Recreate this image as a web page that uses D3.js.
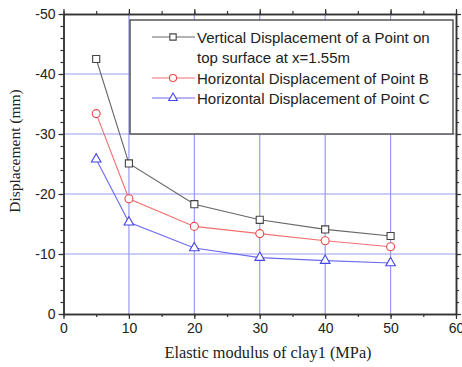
<!DOCTYPE html>
<html><head><meta charset="utf-8">
<script src="https://cdn.jsdelivr.net/npm/d3@7"></script>
<style>body{margin:0;background:#fff}svg{display:block}</style>
</head><body>
<script>
const xValues = [5, 10, 20, 30, 40, 50];
const verticalA = [-42.5, -25.1, -18.3, -15.7, -14.1, -13.0];
const horizontalB = [-33.4, -19.2, -14.6, -13.4, -12.2, -11.2];
const horizontalC = [-25.8, -15.3, -11.0, -9.4, -8.9, -8.5];
const seriesNames = ["Vertical Displacement of a Point on", "top surface at x=1.55m", "Horizontal Displacement of Point B", "Horizontal Displacement of Point C"];
const xTicks = [0, 10, 20, 30, 40, 50, 60];
const yTicks = [0, -10, -20, -30, -40, -50];

const W = 462, H = 367;
const svg = d3.select("body").append("svg").attr("width", W).attr("height", H);
const x = d3.scaleLinear().domain([0, 60]).range([63.5, 456]);
const y = d3.scaleLinear().domain([0, -50]).range([314, 14]);

const grid = "#9a9af0";
svg.append("g").selectAll("line").data([10,20,30,40,50]).join("line")
  .attr("x1", d => x(d)).attr("x2", d => x(d)).attr("y1", y(0)).attr("y2", y(-50))
  .attr("stroke", grid).attr("stroke-width", 1.2);
svg.append("g").selectAll("line").data([-10,-20,-30,-40]).join("line")
  .attr("x1", x(0)).attr("x2", x(60)).attr("y1", d => y(d)).attr("y2", d => y(d))
  .attr("stroke", grid).attr("stroke-width", 1.2);

const font = "Liberation Sans, Arial, sans-serif";
const fmt = d => String(d);
function styleAxis(g) {
  g.select(".domain").attr("stroke", "#333").attr("stroke-width", 1.5);
  g.selectAll(".tick line").attr("stroke", "#333").attr("stroke-width", 1.2);
  g.selectAll("text").attr("font-family", font).attr("font-size", 14).attr("fill", "#222");
}
const minorX = d3.range(0, 61, 5);
const minorY = d3.range(0, -51, -2);
svg.append("g").attr("transform", `translate(0,${y(0)})`)
  .call(d3.axisBottom(x).tickValues(minorX).tickSize(3).tickFormat("").tickSizeOuter(0)).call(styleAxis);
svg.append("g").attr("transform", `translate(0,${y(0)})`)
  .call(d3.axisBottom(x).tickValues(xTicks).tickSize(5).tickPadding(4).tickFormat(fmt).tickSizeOuter(0)).call(styleAxis);
svg.append("g").attr("transform", `translate(0,${y(-50)})`)
  .call(d3.axisTop(x).tickValues(minorX).tickSize(3).tickFormat("").tickSizeOuter(0)).call(styleAxis);
svg.append("g").attr("transform", `translate(0,${y(-50)})`)
  .call(d3.axisTop(x).tickValues(xTicks).tickSize(5).tickFormat("").tickSizeOuter(0)).call(styleAxis);
svg.append("g").attr("transform", `translate(${x(0)},0)`)
  .call(d3.axisLeft(y).tickValues(minorY).tickSize(3).tickFormat("").tickSizeOuter(0)).call(styleAxis);
svg.append("g").attr("transform", `translate(${x(0)},0)`)
  .call(d3.axisLeft(y).tickValues(yTicks).tickSize(5).tickPadding(3).tickFormat(fmt).tickSizeOuter(0)).call(styleAxis);
svg.append("g").attr("transform", `translate(${x(60)},0)`)
  .call(d3.axisRight(y).tickValues(minorY).tickSize(3).tickFormat("").tickSizeOuter(0)).call(styleAxis);
svg.append("g").attr("transform", `translate(${x(60)},0)`)
  .call(d3.axisRight(y).tickValues(yTicks).tickSize(5).tickFormat("").tickSizeOuter(0)).call(styleAxis);

const series = [
  {vals: verticalA, line: "#666", mark: "#444", sym: d3.symbolSquare, size: 50},
  {vals: horizontalB, line: "#f07070", mark: "#e84848", sym: d3.symbolCircle, size: 50},
  {vals: horizontalC, line: "#6b6bf0", mark: "#4545e8", sym: d3.symbolTriangle, size: 40},
];
const lineGen = d3.line().x(d => x(d[0])).y(d => y(d[1]));
series.forEach(s => {
  const pts = xValues.map((v, i) => [v, s.vals[i]]);
  svg.append("path").datum(pts).attr("d", lineGen).attr("fill", "none")
    .attr("stroke", s.line).attr("stroke-width", 1.1);
  svg.append("g").selectAll("path").data(pts).join("path")
    .attr("transform", d => `translate(${x(d[0])},${y(d[1])})`)
    .attr("d", d3.symbol(s.sym, s.size)).attr("fill", "#fff")
    .attr("stroke", s.mark).attr("stroke-width", 1.1);
});

const lg = svg.append("g");
lg.append("rect").attr("x", 130).attr("y", 20).attr("width", 323).attr("height", 114)
  .attr("fill", "#fff").attr("stroke", "#555").attr("stroke-width", 1.5);
const rows = [
  {s: series[0], text: seriesNames[0], y: 37},
  {s: null, text: seriesNames[1], y: 57},
  {s: series[1], text: seriesNames[2], y: 78},
  {s: series[2], text: seriesNames[3], y: 98},
];
rows.forEach(r => {
  if (r.s) {
    lg.append("line").attr("x1", 152).attr("x2", 195).attr("y1", r.y).attr("y2", r.y)
      .attr("stroke", r.s.line).attr("stroke-width", 1.1);
    lg.append("path").attr("transform", `translate(173,${r.y})`)
      .attr("d", d3.symbol(r.s.sym, r.s.size * 0.8)).attr("fill", "#fff")
      .attr("stroke", r.s.mark).attr("stroke-width", 1.1);
  }
  lg.append("text").attr("x", 197).attr("y", r.y + 5.5).text(r.text)
    .attr("font-family", font).attr("font-size", 15).attr("fill", "#222");
});

svg.append("text").attr("x", 268).attr("y", 358).attr("text-anchor", "middle")
  .attr("font-family", "Liberation Serif, Times New Roman, serif").attr("font-size", 16.3).attr("fill", "#222")
  .text("Elastic modulus of clay1 (MPa)");
svg.append("text").attr("transform", "translate(20,151) rotate(-90)").attr("text-anchor", "middle")
  .attr("font-family", "Liberation Serif, Times New Roman, serif").attr("font-size", 15.5).attr("fill", "#222")
  .text("Displacement (mm)");
</script>
</body></html>
